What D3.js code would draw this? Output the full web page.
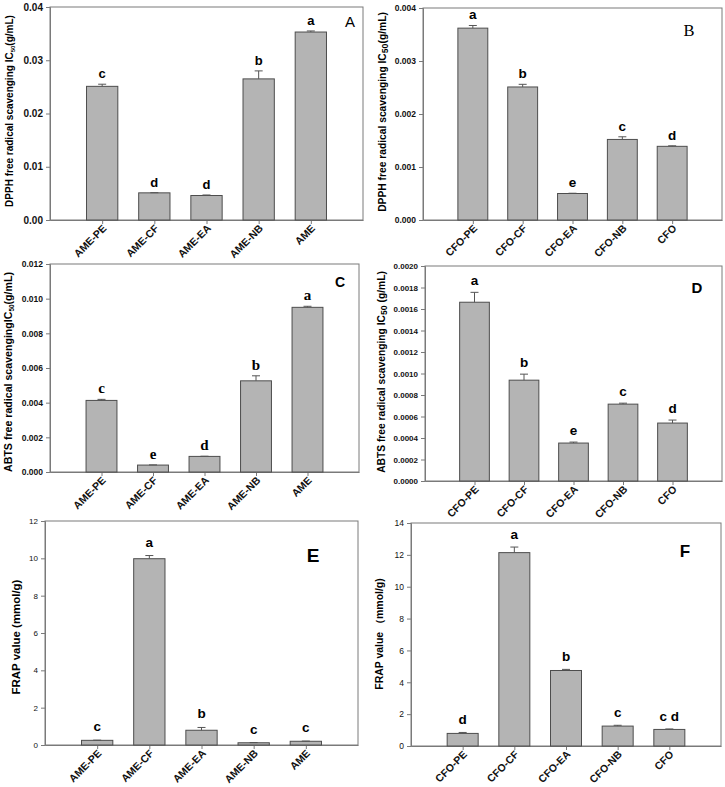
<!DOCTYPE html>
<html>
<head>
<meta charset="utf-8">
<script src="https://cdn.jsdelivr.net/npm/d3@7"></script>
<style>
  html, body { margin: 0; padding: 0; background: #fff; }
  svg { display: block; }
</style>
</head>
<body>
<svg id="chart" width="725" height="787"></svg>
<script>
// ---------- DATA ----------
const categoriesAME = ["AME-PE", "AME-CF", "AME-EA", "AME-NB", "AME"];
const categoriesCFO = ["CFO-PE", "CFO-CF", "CFO-EA", "CFO-NB", "CFO"];

const dpphAME = [0.0251, 0.0051, 0.0046, 0.0265, 0.0353];
const dpphAMEErr = [0.0004, 0.00003, 0.0001, 0.0015, 0.0002];
const dpphAMELetters = ["c", "d", "d", "b", "a"];
const dpphAMETicks = [0, 0.01, 0.02, 0.03, 0.04];
const dpphAMETickLabels = ["0.00", "0.01", "0.02", "0.03", "0.04"];

const dpphCFO = [0.00362, 0.00251, 0.00050, 0.00152, 0.00139];
const dpphCFOErr = [0.00005, 0.00005, 0.000005, 0.00005, 0.00001];
const dpphCFOLetters = ["a", "b", "e", "c", "d"];
const dpphCFOTicks = [0, 0.001, 0.002, 0.003, 0.004];
const dpphCFOTickLabels = ["0.000", "0.001", "0.002", "0.003", "0.004"];

const abtsAME = [0.00413, 0.00040, 0.00090, 0.00526, 0.00950];
const abtsAMEErr = [0.00006, 0.00001, 0.00001, 0.00029, 0.00006];
const abtsAMELetters = ["c", "e", "d", "b", "a"];
const abtsAMETicks = [0, 0.002, 0.004, 0.006, 0.008, 0.010, 0.012];
const abtsAMETickLabels = ["0.000", "0.002", "0.004", "0.006", "0.008", "0.010", "0.012"];

const abtsCFO = [0.001663, 0.000938, 0.000353, 0.000715, 0.000539];
const abtsCFOErr = [0.000092, 0.000056, 0.000009, 0.000009, 0.000028];
const abtsCFOLetters = ["a", "b", "e", "c", "d"];
const abtsCFOTicks = [0, 0.0002, 0.0004, 0.0006, 0.0008, 0.0010, 0.0012, 0.0014, 0.0016, 0.0018, 0.0020];
const abtsCFOTickLabels = ["0.0000", "0.0002", "0.0004", "0.0006", "0.0008", "0.0010", "0.0012", "0.0014", "0.0016", "0.0018", "0.0020"];

const frapAME = [0.25, 9.98, 0.79, 0.12, 0.20];
const frapAMEErr = [0.01, 0.17, 0.15, 0.01, 0.01];
const frapAMELetters = ["c", "a", "b", "c", "c"];
const frapAMETicks = [0, 2, 4, 6, 8, 10, 12];
const frapAMETickLabels = ["0", "2", "4", "6", "8", "10", "12"];

const frapCFO = [0.79, 12.14, 4.74, 1.25, 1.04];
const frapCFOErr = [0.06, 0.35, 0.07, 0.05, 0.03];
const frapCFOLetters = ["d", "a", "b", "c", "c d"];
const frapCFOTicks = [0, 2, 4, 6, 8, 10, 12, 14];
const frapCFOTickLabels = ["0", "2", "4", "6", "8", "10", "12", "14"];

// ---------- LAYOUT / STYLE ----------
const SANS = "'Liberation Sans', Arial, sans-serif";
const SERIF = "'Liberation Serif', 'Times New Roman', serif";
const BAR_FILL = "#b4b4b4";
const BAR_STROKE = "#4d4d4d";
const FRAME = "#7a7a7a";
const C45 = Math.SQRT1_2;

const panels = [
  { cats: categoriesAME, vals: dpphAME, errs: dpphAMEErr, letters: dpphAMELetters,
    ticks: dpphAMETicks, tickLabels: dpphAMETickLabels, domain: [0, 0.04],
    box: [50, 7, 363, 220], tickSize: 10, tickWeight: "bold",
    letterFont: SANS, letterSize: 13, letterOff: 6,
    title: ["DPPH free radical scavenging IC", "50", "(g/mL)"], subScale: 0.6,
    titleX: 9, titleY: 111, titleLen: 192,
    tag: { text: "A", x: 350, y: 27, size: 15, weight: "normal", font: SANS } },
  { cats: categoriesCFO, vals: dpphCFO, errs: dpphCFOErr, letters: dpphCFOLetters,
    ticks: dpphCFOTicks, tickLabels: dpphCFOTickLabels, domain: [0, 0.004],
    box: [423, 8, 722, 220], tickSize: 8.5, tickWeight: "bold",
    letterFont: SANS, letterSize: 13.5, letterOff: 6,
    title: ["DPPH free radical scavenging IC", "50", "(g/mL)"], subScale: 0.85,
    titleX: 382, titleY: 112, titleLen: 200,
    tag: { text: "B", x: 689, y: 36, size: 16.5, weight: "normal", font: SERIF } },
  { cats: categoriesAME, vals: abtsAME, errs: abtsAMEErr, letters: abtsAMELetters,
    ticks: abtsAMETicks, tickLabels: abtsAMETickLabels, domain: [0, 0.012],
    box: [50, 264, 359, 472], tickSize: 8.5, tickWeight: "bold",
    letterFont: SERIF, letterSize: 15, letterOff: 6,
    title: ["ABTS free radical scavengingIC", "50", "(g/mL)"], subScale: 0.6,
    titleX: 8, titleY: 372, titleLen: 200,
    tag: { text: "C", x: 340, y: 287, size: 14, weight: "bold", font: SANS } },
  { cats: categoriesCFO, vals: abtsCFO, errs: abtsCFOErr, letters: abtsCFOLetters,
    ticks: abtsCFOTicks, tickLabels: abtsCFOTickLabels, domain: [0, 0.002],
    box: [425, 266, 722, 481], tickSize: 8, tickWeight: "bold",
    letterFont: SANS, letterSize: 13.5, letterOff: 7,
    title: ["ABTS free radical scavenging IC", "50", " (g/mL)"], subScale: 0.85,
    titleX: 381, titleY: 372, titleLen: 202,
    tag: { text: "D", x: 697, y: 293, size: 15, weight: "bold", font: SANS } },
  { cats: categoriesAME, vals: frapAME, errs: frapAMEErr, letters: frapAMELetters,
    ticks: frapAMETicks, tickLabels: frapAMETickLabels, domain: [0, 12],
    box: [45, 521, 358, 745], tickSize: 8, tickWeight: "normal",
    letterFont: SANS, letterSize: 13.5, letterOff: 9,
    title: ["FRAP value (mmol/g)"], subScale: 1,
    titleX: 16, titleY: 637, titleLen: 115,
    tag: { text: "E", x: 313, y: 562, size: 19, weight: "bold", font: SANS } },
  { cats: categoriesCFO, vals: frapCFO, errs: frapCFOErr, letters: frapCFOLetters,
    ticks: frapCFOTicks, tickLabels: frapCFOTickLabels, domain: [0, 14],
    box: [411, 523, 721, 746], tickSize: 8.5, tickWeight: "normal",
    letterFont: SANS, letterSize: 13.5, letterOff: 8,
    title: ["FRAP value \uFF08mmol/g)"], subScale: 1,
    titleX: 379, titleY: 634, titleLen: 112,
    tag: { text: "F", x: 685, y: 557, size: 17, weight: "bold", font: SANS } }
];

const svg = d3.select("#chart");

panels.forEach(p => {
  const [x0, y0, x1, y1] = p.box;
  const g = svg.append("g");
  const x = d3.scalePoint().domain(p.cats).range([x0, x1]).padding(1);
  const y = d3.scaleLinear().domain(p.domain).range([y1, y0]);
  const bw = x.step() * 0.6;

  g.append("rect").attr("x", x0).attr("y", y0).attr("width", x1 - x0).attr("height", y1 - y0)
    .attr("fill", "none").attr("stroke", FRAME).attr("stroke-width", 1);

  const yAxis = d3.axisLeft(y).tickValues(p.ticks).tickSize(4).tickPadding(3)
    .tickFormat((d, i) => p.tickLabels[i]);
  const ya = g.append("g").attr("transform", `translate(${x0},0)`).call(yAxis);
  ya.select(".domain").attr("stroke", FRAME);
  ya.selectAll(".tick line").attr("stroke", FRAME);
  ya.selectAll(".tick text").attr("fill", "#111")
    .style("font-family", SANS).style("font-size", p.tickSize + "px").style("font-weight", p.tickWeight);

  const xAxis = d3.axisBottom(x).tickSize(4).tickSizeOuter(0).tickFormat("");
  const xa = g.append("g").attr("transform", `translate(0,${y1})`).call(xAxis);
  xa.select(".domain").attr("stroke", FRAME);
  xa.selectAll(".tick line").attr("stroke", FRAME);
  xa.selectAll(".tick text").remove();

  // rotated category labels (-45 deg) as matrix transforms
  const lab = g.append("g").attr("class", "xlabels");
  p.cats.forEach(c => {
    const tx = x(c) + 5, ty = y1 + 9;
    lab.append("text")
      .attr("transform", `matrix(${C45},${-C45},${C45},${C45},${tx},${ty})`)
      .attr("text-anchor", "end")
      .attr("fill", "#111")
      .style("font-family", SANS).style("font-size", "10.5px").style("font-weight", "bold")
      .text(c);
  });

  const data = p.cats.map((c, i) => ({ c, v: p.vals[i], e: p.errs[i], l: p.letters[i] }));
  g.selectAll("rect.bar").data(data).enter().append("rect")
    .attr("class", "bar")
    .attr("x", d => x(d.c) - bw / 2)
    .attr("y", d => y(d.v))
    .attr("width", bw)
    .attr("height", d => y1 - y(d.v))
    .attr("fill", BAR_FILL).attr("stroke", BAR_STROKE).attr("stroke-width", 1);

  const eg = g.selectAll("g.err").data(data).enter().append("g").attr("class", "err");
  eg.append("line")
    .attr("x1", d => x(d.c)).attr("x2", d => x(d.c))
    .attr("y1", d => y(d.v)).attr("y2", d => y(d.v + d.e))
    .attr("stroke", "#555").attr("stroke-width", 1);
  eg.append("line")
    .attr("x1", d => x(d.c) - 4).attr("x2", d => x(d.c) + 4)
    .attr("y1", d => y(d.v + d.e)).attr("y2", d => y(d.v + d.e))
    .attr("stroke", "#555").attr("stroke-width", 1);

  g.selectAll("text.letter").data(data).enter().append("text")
    .attr("class", "letter")
    .attr("x", d => x(d.c))
    .attr("y", d => y(d.v + d.e) - p.letterOff)
    .attr("text-anchor", "middle")
    .style("font-family", p.letterFont).style("font-size", p.letterSize + "px").style("font-weight", "bold")
    .attr("fill", "#000")
    .text(d => d.l);

  g.append("text").attr("x", p.tag.x).attr("y", p.tag.y).attr("text-anchor", "middle")
    .style("font-family", p.tag.font).style("font-size", p.tag.size + "px").style("font-weight", p.tag.weight)
    .attr("fill", "#000").text(p.tag.text);

  const base = 11;
  const t = g.append("text")
    .attr("transform", `translate(${p.titleX},${p.titleY}) rotate(-90)`)
    .attr("text-anchor", "middle").attr("dy", "0.36em")
    .style("font-family", SANS).style("font-weight", "bold").style("font-size", base + "px")
    .attr("fill", "#000");
  t.append("tspan").text(p.title[0]);
  if (p.title.length > 1) {
    t.append("tspan").attr("baseline-shift", "-25%").style("font-size", (base * p.subScale) + "px").text(p.title[1]);
    t.append("tspan").text(p.title[2]);
  }
  const len = t.node().getComputedTextLength();
  const fs = base * p.titleLen / len;
  t.style("font-size", fs + "px");
  t.selectAll("tspan").filter((d, i) => i === 1).style("font-size", (fs * p.subScale) + "px");
});
</script>
</body>
</html>
